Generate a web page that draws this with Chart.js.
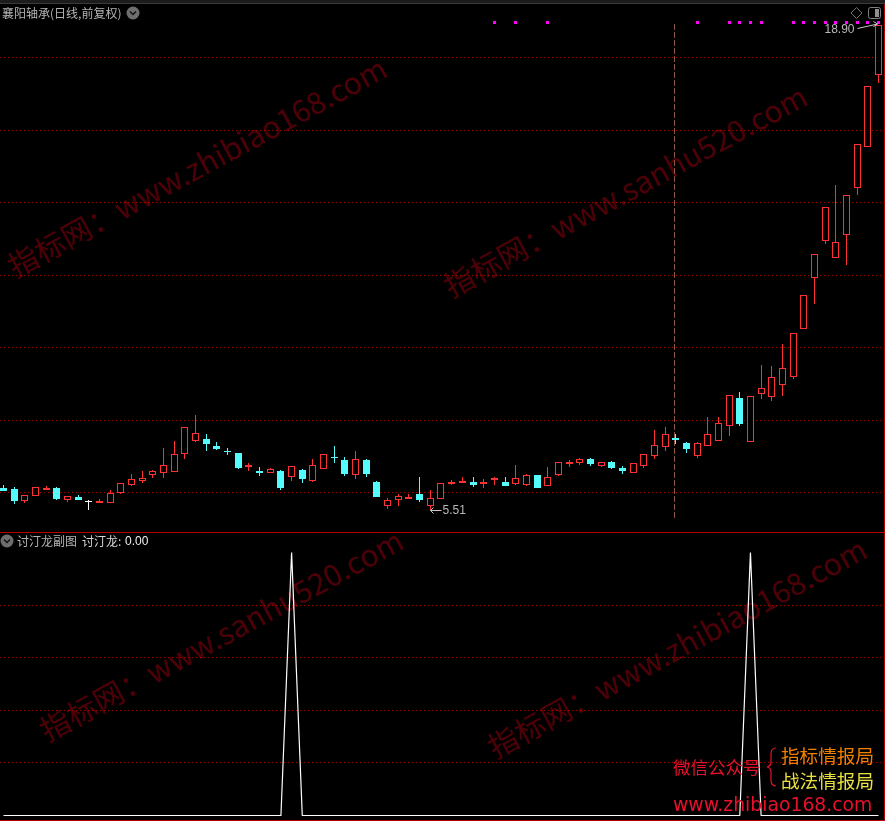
<!DOCTYPE html>
<html>
<head>
<meta charset="utf-8">
<script src="https://cdn.jsdelivr.net/npm/chart.js@4/dist/chart.umd.js"></script>
<style>
  html, body { margin: 0; padding: 0; background: #000; overflow: hidden; }
  #stage { position: relative; width: 885px; height: 821px; background: #000; overflow: hidden; }
  #stage canvas { position: absolute; left: 0; }
  #mainChart { top: 0; }
  #subChart { top: 534px; }
  .t { position: absolute; white-space: nowrap; font-family: "Noto Sans CJK SC", sans-serif; line-height: 1; }
  .wm { position: absolute; white-space: nowrap; font-family: "Noto Sans CJK SC", sans-serif; font-size: 30px; line-height: 1; letter-spacing: 0.25px; color: #4e0008; transform-origin: 0 50%; transform: rotate(-28.5deg); }
  .rule { position: absolute; background: #b80000; }
  svg { position: absolute; }
</style>
</head>
<body>
<div id="stage">
  <!-- watermarks sit under the charts -->
  <div class="wm" style="left:9px;top:252px">指标网：www.zhibiao168.com</div>
  <div class="wm" style="left:445px;top:272px">指标网：www.sanhu520.com</div>
  <div class="wm" style="left:41px;top:716px">指标网：www.sanhu520.com</div>
  <div class="wm" style="left:489px;top:733px">指标网：www.zhibiao168.com</div>

  <canvas id="mainChart" width="885" height="533"></canvas>
  <canvas id="subChart" width="885" height="287"></canvas>

  <!-- frame -->
  <div class="rule" style="left:0;top:0;width:885px;height:3px;background:#1c1c1c"></div>
  <div class="rule" style="left:0;top:3px;width:885px;height:1px;background:#3a3a3a"></div>
  <div class="rule" style="left:0;top:532px;width:885px;height:1px"></div>
  <div class="rule" style="left:884px;top:4px;width:1px;height:817px"></div>
  <div class="rule" style="left:0;top:820px;width:885px;height:1px"></div>

  <!-- headers -->
  <div class="t" style="left:2px;top:7px;font-size:12px;color:#b4b4b4">襄阳轴承(日线,前复权)</div>
  <svg style="left:126px;top:6px" width="14" height="14"><circle cx="7" cy="7" r="6.5" fill="#6e6e6e"/><path d="M4 5.5 L7 8.5 L10 5.5" fill="none" stroke="#111" stroke-width="1.4"/></svg>
  <svg style="left:0;top:534px" width="14" height="14"><circle cx="7" cy="7" r="6.5" fill="#6e6e6e"/><path d="M4 5.5 L7 8.5 L10 5.5" fill="none" stroke="#111" stroke-width="1.4"/></svg>
  <div class="t" style="left:17px;top:535px;font-size:12px;color:#b4b4b4">讨汀龙副图</div>
  <div class="t" style="left:82px;top:535px;font-size:12px;color:#d8d8d8">讨汀龙:</div>
  <div class="t" style="left:125px;top:535px;font-size:12px;color:#f0f0f0;font-family:'Liberation Sans',sans-serif">0.00</div>

  <!-- top right icons -->
  <svg style="left:849px;top:6px" width="15" height="15"><path d="M7.5 1.5 L13 7 L7.5 12.5 L2 7 Z" fill="none" stroke="#707070" stroke-width="1"/></svg>
  <svg style="left:868px;top:7px" width="14" height="13"><rect x="0.5" y="0.5" width="12" height="11" rx="2" fill="#000" stroke="#808080"/><rect x="7" y="2" width="4" height="8" fill="#909090"/></svg>

  <!-- bottom right stamp -->
  <div class="t" style="left:673px;top:758px;font-size:17.5px;color:#e8102a">微信公众号</div>
  <svg style="left:765px;top:746px" width="14" height="42"><path d="M11 2 Q6 2 6 8 L6 16 Q6 20 2 21 Q6 22 6 26 L6 34 Q6 40 11 40" fill="none" stroke="#e8102a" stroke-width="1.2"/></svg>
  <div class="t" style="left:781px;top:746px;font-size:18.6px;color:#f08000">指标情报局</div>
  <div class="t" style="left:781px;top:771px;font-size:18.6px;color:#e8e040">战法情报局</div>
  <div class="t" style="left:673px;top:796px;font-size:18.8px;color:#e8102a;font-family:'DejaVu Sans',sans-serif">www.zhibiao168.com</div>
</div>

<script>
//daily quotes
var opens = [6.12,6.09,5.77,5.91,6.06,6.12,5.80,5.87,5.76,5.70,5.70,5.99,6.21,6.31,6.49,6.52,6.57,7.06,7.41,7.47,7.27,
  7.13,7.08,6.70,6.59,6.52,6.59,6.41,6.62,6.31,6.63,6.98,6.89,6.49,6.89,6.29,5.63,5.80,5.81,5.95,5.63,5.82,
  6.23,6.27,6.29,6.24,6.34,6.29,6.24,6.21,6.48,6.18,6.49,6.77,6.82,6.92,6.74,6.84,6.68,6.54,6.74,6.99,7.25,
  7.49,7.36,6.99,7.28,7.42,7.84,8.60,7.39,8.70,8.64,8.95,9.19,10.51,11.92,12.92,12.47,13.09,14.40,15.53,17.50];
var highs = [6.20,6.15,5.94,6.14,6.17,6.15,5.89,5.92,5.79,5.81,6.06,6.25,6.51,6.59,6.62,7.22,7.41,7.79,8.13,7.61,7.38,
  7.22,7.08,6.81,6.70,6.67,6.62,6.73,6.65,6.92,7.07,7.27,6.98,7.13,6.92,6.31,5.84,5.95,5.95,6.42,6.06,6.25,
  6.34,6.42,6.42,6.37,6.42,6.42,6.76,6.51,6.48,6.70,6.83,6.90,6.95,6.95,6.83,6.87,6.73,6.80,7.05,7.72,7.80,
  7.61,7.38,7.38,8.08,8.08,8.68,8.77,8.65,9.51,9.48,10.09,10.39,11.43,12.57,13.86,14.48,14.19,15.62,17.20,18.90];
var lows = [6.04,5.68,5.71,5.91,6.06,5.79,5.74,5.79,5.52,5.70,5.70,5.95,6.17,6.26,6.40,6.40,6.57,6.92,7.38,7.13,7.16,
  7.02,6.65,6.59,6.45,6.52,6.06,6.31,6.26,6.29,6.63,6.81,6.45,6.37,6.42,5.87,5.54,5.62,5.81,5.73,5.51,5.82,
  6.20,6.27,6.15,6.12,6.20,6.17,6.20,6.17,6.12,6.18,6.45,6.70,6.76,6.73,6.71,6.65,6.51,6.54,6.68,6.92,7.13,
  7.33,7.08,6.95,7.28,7.42,7.55,7.83,7.39,8.58,8.52,8.66,9.13,10.51,11.19,12.85,12.47,12.27,14.20,15.53,17.30];
var closes = [6.04,5.76,5.94,6.14,6.12,5.81,5.89,5.79,5.74,5.76,5.98,6.25,6.36,6.39,6.58,6.75,7.07,7.79,7.65,7.33,7.19,
  7.10,6.67,6.76,6.53,6.65,6.12,6.73,6.37,6.75,7.07,6.95,6.51,6.91,6.51,5.87,5.80,5.89,5.86,5.79,5.83,6.25,
  6.29,6.31,6.20,6.29,6.40,6.17,6.39,6.47,6.12,6.41,6.83,6.83,6.91,6.78,6.83,6.67,6.59,6.80,7.05,7.30,7.62,
  7.45,7.19,7.35,7.60,7.90,8.68,7.88,8.65,8.87,9.18,9.44,10.39,11.43,12.57,13.86,12.90,14.19,15.62,17.20,18.90];

//days that got a signal dot along the top
var signalDays = [46,48,51,65,68,69,70,71,74,75,76,77,78,79,80,81,82];
var signalBand = [18.919, 19.002];

//price gridlines and the lower panel's gridlines
var priceTicks = [6,8,10,12,14,16,18];
var subTicks = [0.2,0.4,0.6,0.8];

//crosshair
var crossDay = 62.87;
var crossPrices = [18.92, 5.26];

//lower panel indicator
var subValues = [0,0,0,0,0,0,0,0,0,0,0,0,0,0,0,0,0,0,0,0,0,0,0,0,0,0,0,1,0,0,0,0,0,0,0,0,0,0,0,0,0,
  0,0,0,0,0,0,0,0,0,0,0,0,0,0,0,0,0,0,0,0,0,0,0,0,0,0,0,0,0,1,0,0,0,0,0,0,0,0,0,0,0,0];

var RED = '#ff3232';
var CYAN = '#54fcfc';

function isFlat(i) {
  return Math.abs(opens[i] - closes[i]) < 0.025;
}
function candleColor(i) {
  if (isFlat(i)) return '#ffffff';
  return closes[i] >= opens[i] ? RED : CYAN;
}

//snaps marks to whole pixels so the candles stay crisp like the original
class PixelLinear extends Chart.LinearScale {
  getPixelForValue(value) {
    var p = super.getPixelForValue(value);
    return this.isHorizontal() ? Math.floor(p) + 0.5 : Math.round(p);
  }
}
PixelLinear.id = 'pixelLinear';
PixelLinear.defaults = Chart.LinearScale.defaults;
Chart.register(PixelLinear);

//x range shared by both panels: day 0 sits 3.5px in, 10.67px per day
var xMin = -0.328;
var xMax = 82.61;

var dayIndex = opens.map(function(v, i) { return i; });

//the two price tags with their little arrows
var priceTags = {
  id: 'priceTags',
  afterDatasetsDraw: function(chart) {
    var ctx = chart.ctx;
    var x = chart.scales.x;
    var y = chart.scales.y;
    ctx.save();
    ctx.font = '12px "Liberation Sans"';
    ctx.fillStyle = '#b8b8b8';
    ctx.strokeStyle = '#c8c8c8';
    ctx.lineWidth = 1;
    ctx.textBaseline = 'middle';

    //high
    var hx = x.getPixelForValue(82);
    var hy = y.getPixelForValue(Math.max.apply(null, highs));
    ctx.textAlign = 'right';
    ctx.fillText(Math.max.apply(null, highs).toFixed(2), hx - 24, hy + 5);
    ctx.beginPath();
    ctx.moveTo(hx - 21, hy + 3.5);
    ctx.lineTo(hx - 1, hy - 1);
    ctx.moveTo(hx - 5, hy - 3.5);
    ctx.lineTo(hx - 1, hy - 1);
    ctx.lineTo(hx - 5, hy + 1.5);
    ctx.stroke();

    //low
    var lx = x.getPixelForValue(40);
    var ly = y.getPixelForValue(Math.min.apply(null, lows));
    ctx.textAlign = 'left';
    ctx.fillText(Math.min.apply(null, lows).toFixed(2), lx + 12, ly + 1);
    ctx.beginPath();
    ctx.moveTo(lx, ly + 0.5);
    ctx.lineTo(lx + 11, ly + 0.5);
    ctx.moveTo(lx + 3, ly - 2.5);
    ctx.lineTo(lx, ly + 0.5);
    ctx.lineTo(lx + 3, ly + 3.5);
    ctx.stroke();
    ctx.restore();
  }
};

var mainCtx = document.getElementById('mainChart').getContext('2d');
var mainChart = new Chart(mainCtx, {
  type: 'bar',
  plugins: [priceTags],
  data: {
    datasets: [
      { //wicks
        data: dayIndex.map(function(i) { return {x: i, y: [lows[i], highs[i]]}; }),
        backgroundColor: dayIndex.map(candleColor),
        barThickness: 1,
        grouped: false,
        inflateAmount: 0,
        order: 3
      },
      { //bodies
        data: dayIndex.map(function(i) { return {x: i, y: [opens[i], closes[i]]}; }),
        backgroundColor: dayIndex.map(function(i) { return candleColor(i) === RED ? '#000000' : candleColor(i); }),
        borderColor: dayIndex.map(candleColor),
        borderWidth: 1,
        borderSkipped: false,
        barThickness: 7,
        grouped: false,
        inflateAmount: 0,
        order: 2
      },
      { //signal dots
        data: signalDays.map(function(d) { return {x: d, y: signalBand}; }),
        backgroundColor: '#ff00ff',
        barThickness: 3,
        grouped: false,
        inflateAmount: 0,
        order: 1
      },
      { //crosshair
        type: 'line',
        data: crossPrices.map(function(p) { return {x: crossDay, y: p}; }),
        borderColor: '#8a5a40',
        borderWidth: 1,
        borderDash: [6, 2],
        pointRadius: 0,
        order: 0
      }
    ]
  },
  options: {
    responsive: false,
    animation: false,
    layout: { padding: 0 },
    plugins: { legend: { display: false }, tooltip: { enabled: false } },
    scales: {
      x: { type: 'pixelLinear', display: false, offset: false, min: xMin, max: xMax },
      y: {
        type: 'pixelLinear',
        min: 4.878,
        max: 19.581,
        afterBuildTicks: function(scale) {
          scale.ticks = priceTicks.map(function(v) { return {value: v}; });
        },
        ticks: { display: false },
        border: { display: false, dash: [1, 3] },
        grid: { color: '#a80000', lineWidth: 1, drawTicks: false }
      }
    }
  }
});

var subCtx = document.getElementById('subChart').getContext('2d');
var subChart = new Chart(subCtx, {
  type: 'line',
  data: {
    datasets: [{
      data: dayIndex.map(function(i) { return {x: i, y: subValues[i]}; }),
      borderColor: '#ffffff',
      borderWidth: 1.2,
      pointRadius: 0,
      tension: 0
    }]
  },
  options: {
    responsive: false,
    animation: false,
    layout: { padding: 0 },
    plugins: { legend: { display: false }, tooltip: { enabled: false } },
    scales: {
      x: { type: 'linear', display: false, min: xMin, max: xMax },
      y: {
        min: -0.0209,
        max: 1.0703,
        afterBuildTicks: function(scale) {
          scale.ticks = subTicks.map(function(v) { return {value: v}; });
        },
        ticks: { display: false },
        border: { display: false, dash: [1, 3] },
        grid: { color: '#a80000', lineWidth: 1, drawTicks: false }
      }
    }
  }
});
</script>
</body>
</html>
